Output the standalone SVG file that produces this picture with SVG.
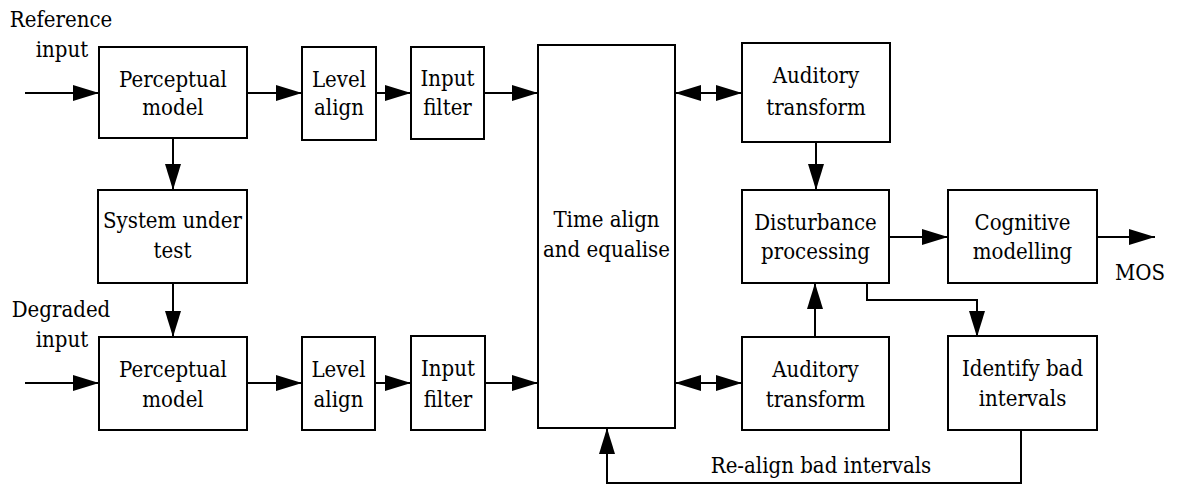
<svg xmlns="http://www.w3.org/2000/svg" width="1179" height="484" viewBox="0 0 1179 484">
<style>
.box{fill:#fff;stroke:#000;stroke-width:2}
.t{font-family:'DejaVu Serif Condensed','DejaVu Serif',serif;font-stretch:condensed;font-size:22px;fill:#000;text-anchor:middle}
.c{fill:none;stroke:#000;stroke-width:2}
</style>
<defs>
<marker id="ah" viewBox="0 0 26 16" refX="26" refY="8" markerWidth="26" markerHeight="16" markerUnits="userSpaceOnUse" orient="auto-start-reverse">
<path d="M0,0 L26,8 L0,16 Z" fill="#000"/>
</marker>
</defs>
<rect width="1179" height="484" fill="#fff"/>
<g id="connectors">
<path class="c" d="M25,93 H99" marker-end="url(#ah)"/>
<path class="c" d="M247,93 H302" marker-end="url(#ah)"/>
<path class="c" d="M376,93 H411" marker-end="url(#ah)"/>
<path class="c" d="M484,93 H538" marker-end="url(#ah)"/>
<path class="c" d="M675,93 H742" marker-start="url(#ah)" marker-end="url(#ah)"/>
<path class="c" d="M173,138 V190" marker-end="url(#ah)"/>
<path class="c" d="M173,283 V337" marker-end="url(#ah)"/>
<path class="c" d="M25,383 H99" marker-end="url(#ah)"/>
<path class="c" d="M247,383 H302" marker-end="url(#ah)"/>
<path class="c" d="M375,383 H411" marker-end="url(#ah)"/>
<path class="c" d="M485,383 H538" marker-end="url(#ah)"/>
<path class="c" d="M675,383 H742" marker-start="url(#ah)" marker-end="url(#ah)"/>
<path class="c" d="M816,142 V190" marker-end="url(#ah)"/>
<path class="c" d="M815,337 V283" marker-end="url(#ah)"/>
<path class="c" d="M889,237 H948" marker-end="url(#ah)"/>
<path class="c" d="M1097,237 H1155" marker-end="url(#ah)"/>
<path class="c" d="M867,283 V300 H977 V337" marker-end="url(#ah)"/>
<path class="c" d="M1021,430 V483 H607 V428" marker-end="url(#ah)"/>
</g>
<g id="labels">
<text class="t" x="61" y="27">Reference</text>
<text class="t" x="62" y="57">input</text>
<text class="t" x="61" y="317">Degraded</text>
<text class="t" x="62" y="347">input</text>
<text class="t" x="1140" y="280">MOS</text>
<text class="t" x="821" y="473">Re-align bad intervals</text>
</g>
<g id="pm-ref">
<rect class="box" x="99" y="47" width="148" height="91"/>
<text class="t" x="173" y="87">Perceptual</text>
<text class="t" x="173" y="115">model</text>
</g>
<g id="level-ref">
<rect class="box" x="302" y="47" width="74" height="93"/>
<text class="t" x="339" y="87">Level</text>
<text class="t" x="339" y="115">align</text>
</g>
<g id="filter-ref">
<rect class="box" x="411" y="47" width="73" height="92"/>
<text class="t" x="447.5" y="86">Input</text>
<text class="t" x="447.5" y="115">filter</text>
</g>
<g id="sut">
<rect class="box" x="98" y="190" width="149" height="93"/>
<text class="t" x="172.5" y="228">System under</text>
<text class="t" x="172.5" y="258">test</text>
</g>
<g id="pm-deg">
<rect class="box" x="99" y="337" width="148" height="93"/>
<text class="t" x="173" y="377">Perceptual</text>
<text class="t" x="173" y="407">model</text>
</g>
<g id="level-deg">
<rect class="box" x="302" y="337" width="73" height="93"/>
<text class="t" x="338.5" y="377">Level</text>
<text class="t" x="338.5" y="407">align</text>
</g>
<g id="filter-deg">
<rect class="box" x="411" y="336" width="74" height="94"/>
<text class="t" x="448" y="376">Input</text>
<text class="t" x="448" y="407">filter</text>
</g>
<g id="time-align">
<rect class="box" x="538" y="45" width="137" height="383"/>
<text class="t" x="606.5" y="227">Time align</text>
<text class="t" x="606.5" y="257">and equalise</text>
</g>
<g id="aud-ref">
<rect class="box" x="742" y="43" width="148" height="99"/>
<text class="t" x="816" y="83">Auditory</text>
<text class="t" x="816" y="115">transform</text>
</g>
<g id="disturbance">
<rect class="box" x="742" y="190" width="147" height="93"/>
<text class="t" x="815.5" y="230">Disturbance</text>
<text class="t" x="815.5" y="259">processing</text>
</g>
<g id="cognitive">
<rect class="box" x="948" y="190" width="149" height="93"/>
<text class="t" x="1022.5" y="230">Cognitive</text>
<text class="t" x="1022.5" y="259">modelling</text>
</g>
<g id="aud-deg">
<rect class="box" x="742" y="337" width="147" height="93"/>
<text class="t" x="815.5" y="377">Auditory</text>
<text class="t" x="815.5" y="407">transform</text>
</g>
<g id="identify">
<rect class="box" x="948" y="336" width="149" height="94"/>
<text class="t" x="1022.5" y="376">Identify bad</text>
<text class="t" x="1022.5" y="406">intervals</text>
</g>
</svg>
